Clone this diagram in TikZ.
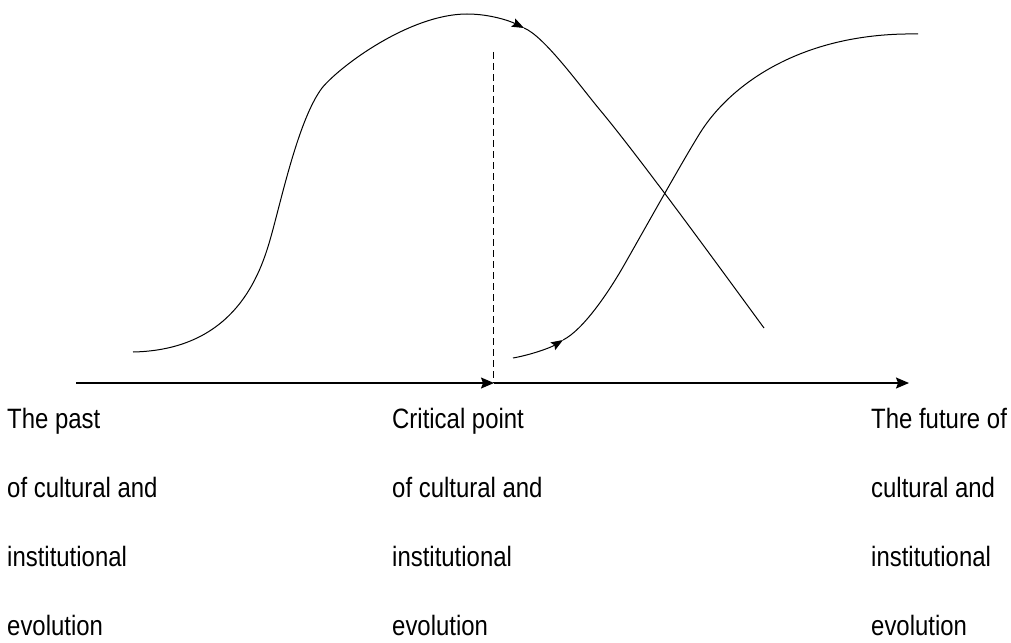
\documentclass[tikz,border=0pt]{standalone}
\usepackage{fontspec}
\newfontfamily\labfont[FakeStretch=0.855]{Liberation Sans}
\usetikzlibrary{arrows.meta}
\begin{document}
\begin{tikzpicture}[x=1pt,y=-1pt,
  lbl/.style={anchor=base west,inner sep=0pt,font=\labfont\fontsize{28}{28}\selectfont},
  axisline/.style={line width=1.4pt,-{Stealth[length=13pt,width=11pt,inset=2pt]}},
  curveline/.style={line width=1pt},
  curvetip/.style={line width=1pt,-{Stealth[length=12pt,width=9pt,inset=2pt]}},
  critline/.style={line width=1pt,dash pattern=on 7pt off 4pt}]
\useasboundingbox (0,0) rectangle (1011,642);
% axis
\coordinate (a0) at (76,383);
\coordinate (amid) at (494,383);
\coordinate (aend) at (909,383);
\coordinate (dtop) at (493,52);
\coordinate (dbot) at (493,383);
\draw[axisline] (a0) -- (amid);
\draw[axisline] (amid) -- (aend);
\draw[critline] (dtop) -- (dbot);
% first curve
\coordinate (c1s) at (133,352);
\coordinate (c1a) at (270,240);
\coordinate (c1b) at (322,88);
\coordinate (c1p) at (467,14);
\coordinate (c1t) at (524,28);
\coordinate (c1c) at (600,110);
\coordinate (c1e) at (764,328);
\draw[curvetip] (c1s) .. controls (230,350) and (258,282) .. (c1a)
  .. controls (281,202) and (298,120) .. (c1b)
  .. controls (340,66) and (410,14) .. (c1p)
  .. controls (490,14) and (510,21) .. (c1t);
\draw[curveline] (c1t) .. controls (544,36) and (580,86) .. (c1c)
  .. controls (640,158) and (720,268) .. (c1e);
% second curve
\coordinate (c2s) at (513,358);
\coordinate (c2t) at (563,340);
\coordinate (c2a) at (623,267);
\coordinate (c2b) at (700,133);
\coordinate (c2e) at (918,34);
\draw[curvetip] (c2s) .. controls (530,355) and (550,348) .. (c2t);
\draw[curveline] (c2t) .. controls (583,330) and (608,293) .. (c2a)
  .. controls (643,232) and (682,162) .. (c2b)
  .. controls (732,82) and (805,32) .. (c2e);
% labels
\node[lbl] (l1) at (7,428) {The past};
\node[lbl] (l2) at (7,497) {of cultural and};
\node[lbl] (l3) at (7,566) {institutional};
\node[lbl] (l4) at (7,635) {evolution};
\node[lbl] (m1) at (392,428) {Critical point};
\node[lbl] (m2) at (392,497) {of cultural and};
\node[lbl] (m3) at (392,566) {institutional};
\node[lbl] (m4) at (392,635) {evolution};
\node[lbl] (r1) at (871,428) {The future of};
\node[lbl] (r2) at (871,497) {cultural and};
\node[lbl] (r3) at (871,566) {institutional};
\node[lbl] (r4) at (871,635) {evolution};
\end{tikzpicture}
\end{document}
